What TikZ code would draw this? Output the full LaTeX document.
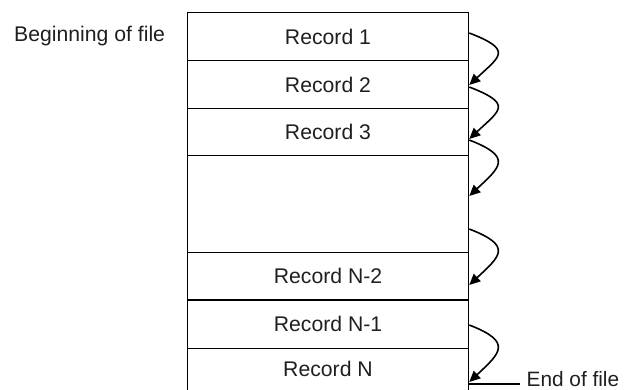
\documentclass[tikz,border=0pt]{standalone}
\usepackage{fontspec}
\setmainfont{Liberation Sans}
\usetikzlibrary{arrows.meta}
\begin{document}
\begin{tikzpicture}[x=1pt,y=-1pt,
  txt/.style={font=\fontsize{21.2}{25}\selectfont, text=black!88, inner sep=0pt},
  rec/.style={txt, draw, line width=1.5pt, minimum width=281pt},
  hop/.style={-{Triangle[length=11pt,width=10pt]}, line width=1.6pt},
  thin/.style={line width=1.4pt}]
\useasboundingbox (0,0) rectangle (624,390);
% records
\node[rec, minimum height=48pt]   (r1)  at (328,36.7)  {Record 1};
\node[rec, minimum height=47.8pt] (r2)  at (328,84.6)  {Record 2};
\node[rec, minimum height=47pt]   (r3)  at (328,132)   {Record 3};
\node[rec, minimum height=97.2pt] (gap) at (328,204.1) {};
\node[rec, minimum height=47.3pt] (r4)  at (328,276.35) {Record N-2};
\node[rec, minimum height=48.3pt] (r5)  at (328,324.15) {Record N-1};
\node[txt, minimum width=281pt, minimum height=41.7pt] (r6) at (328,369.2) {Record N};
\draw[line width=1.5pt] (r6.north west) -- (r6.south west);
\draw[line width=1.5pt] (r6.north east) -- (r6.south east);
% labels
\node[txt, anchor=base west] (bof) at (14,42) {Beginning of file};
\node[txt, font=\fontsize{20.8}{25}\selectfont, anchor=west] (eoft) at (526.5,379) {End of file};
% arrow end points on the right edge
\coordinate (a1) at (r1.east |- 0,33);
\coordinate (b1) at (r1.east |- 0,85);
\coordinate (a2) at (r1.east |- 0,87);
\coordinate (b2) at (r1.east |- 0,139);
\coordinate (a3) at (r1.east |- 0,140);
\coordinate (b3) at (r1.east |- 0,196);
\coordinate (a4) at (r1.east |- 0,229);
\coordinate (b4) at (r1.east |- 0,285);
\coordinate (a5) at (r1.east |- 0,325);
\coordinate (b5) at (r1.east |- 0,382);
\coordinate (eof) at (r6.east |- 0,384);
% arrows
\foreach \i in {1,...,5}{
  \draw[hop] (a\i) .. controls +(44,17) and +(31,-29) .. (b\i);
}
% end of file marker
\draw[thin] (eof) -- ([xshift=-7pt]eoft.west |- eof);
\end{tikzpicture}
\end{document}
